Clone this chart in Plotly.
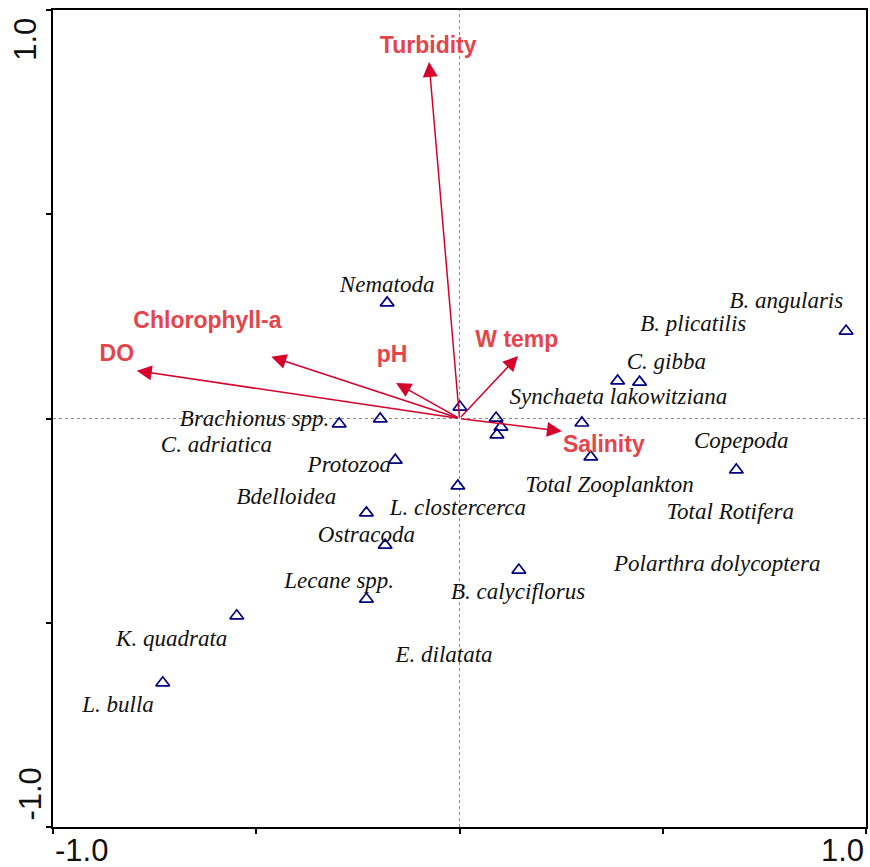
import plotly.graph_objects as go

# Species sample points (triangles)
pt_x = [-0.178, 0.951, 0.389, 0.443, 0.001, -0.296, -0.195, 0.090, 0.102, 0.092,
        0.301, 0.323, 0.681, -0.158, -0.004, -0.229, -0.183, 0.146, -0.229, -0.548, -0.730]
pt_y = [0.283, 0.214, 0.092, 0.089, 0.028, -0.013, -0.001, 0.001, -0.021, -0.040,
        -0.011, -0.094, -0.126, -0.102, -0.165, -0.231, -0.310, -0.371, -0.442, -0.483, -0.647]

# Species labels and their positions
species = ["Nematoda", "B. angularis", "B. plicatilis", "C. gibba", "Synchaeta lakowitziana",
           "Brachionus spp.", "C. adriatica", "Copepoda", "Total Zooplankton", "Total Rotifera",
           "Polarthra dolycoptera", "Protozoa", "Bdelloidea", "L. clostercerca", "Ostracoda",
           "B. calyciflorus", "Lecane spp.", "K. quadrata", "E. dilatata", "L. bulla"]
sp_x = [-0.178, 0.804, 0.575, 0.509, 0.391, -0.504, -0.598, 0.693, 0.369, 0.666,
        0.634, -0.271, -0.426, -0.004, -0.229, 0.144, -0.296, -0.708, -0.038, -0.840]
sp_y = [0.324, 0.285, 0.229, 0.136, 0.050, -0.004, -0.067, -0.058, -0.165, -0.231,
        -0.359, -0.116, -0.195, -0.222, -0.288, -0.427, -0.400, -0.542, -0.581, -0.704]

# Environmental variables (arrow tips) and label positions
env = ["Turbidity", "Chlorophyll-a", "DO", "pH", "W temp", "Salinity"]
env_x = [-0.075, -0.463, -0.794, -0.156, 0.144, 0.252]
env_y = [0.873, 0.151, 0.117, 0.087, 0.153, -0.031]
env_lx = [-0.077, -0.620, -0.843, -0.166, 0.141, 0.355]
env_ly = [0.909, 0.236, 0.156, 0.153, 0.190, -0.067]

ARROW = "#d6002b"
LABEL_RED = "#e5444b"

fig = go.Figure()

fig.add_trace(go.Scatter(
    x=pt_x, y=pt_y, mode="markers",
    marker=dict(symbol="triangle-up-open", size=12, color="#000080",
                line=dict(width=1.7, color="#000080")),
    hoverinfo="skip", showlegend=False))

fig.add_trace(go.Scatter(
    x=sp_x, y=sp_y, mode="text", text=species, textposition="middle center",
    textfont=dict(family="Liberation Serif, Times New Roman, serif", size=23,
                  color="#111111", style="italic"),
    hoverinfo="skip", showlegend=False))

fig.add_trace(go.Scatter(
    x=env_lx, y=env_ly, mode="text", text=env, textposition="middle center",
    textfont=dict(family="Liberation Sans, Arial, sans-serif", size=23,
                  color=LABEL_RED, weight="bold"),
    hoverinfo="skip", showlegend=False))

for ex, ey in zip(env_x, env_y):
    fig.add_annotation(x=ex, y=ey, ax=0, ay=0, xref="x", yref="y", axref="x", ayref="y",
                       showarrow=True, arrowhead=2, arrowsize=2.0, arrowwidth=1.5,
                       arrowcolor=ARROW, standoff=0, text="")

# dotted reference lines
fig.add_shape(type="line", x0=0, x1=0, y0=-1, y1=1, xref="x", yref="y",
              line=dict(color="#888888", width=1, dash="dot"), layer="below")
fig.add_shape(type="line", x0=-1, x1=1, y0=0, y1=0, xref="x", yref="y",
              line=dict(color="#888888", width=1, dash="dot"), layer="below")

# tick labels
tf = dict(family="Liberation Sans, Arial, sans-serif", size=31, color="#111111")
fig.add_annotation(x=0, y=0, xref="paper", yref="paper", text="-1.0", showarrow=False,
                   xanchor="left", yanchor="top", yshift=-4, font=tf)
fig.add_annotation(x=1, y=0, xref="paper", yref="paper", text="1.0", showarrow=False,
                   xanchor="right", yanchor="top", yshift=-4, font=tf)
fig.add_annotation(x=-0.034, y=0.964, xref="paper", yref="paper", text="1.0", showarrow=False,
                   xanchor="center", yanchor="middle", textangle=-90, font=tf)
fig.add_annotation(x=-0.028, y=0.040, xref="paper", yref="paper", text="-1.0", showarrow=False,
                   xanchor="center", yanchor="middle", textangle=-90, font=tf)

axis_common = dict(range=[-1, 1], showgrid=False, zeroline=False, showline=True,
                   linecolor="black", linewidth=1.5, mirror=True, ticks="outside",
                   ticklen=5, tickwidth=1.5, tickcolor="black",
                   tickvals=[-1, -0.5, 0, 0.5, 1], showticklabels=False, fixedrange=True)

fig.update_layout(
    width=870, height=867,
    margin=dict(l=53, r=2, t=10, b=40),
    plot_bgcolor="white", paper_bgcolor="white",
    xaxis=axis_common, yaxis=axis_common,
    showlegend=False,
)

fig.write_html("out.html", config={"displayModeBar": False},
               post_script="document.body.style.margin='0';document.body.style.overflow='hidden';")
